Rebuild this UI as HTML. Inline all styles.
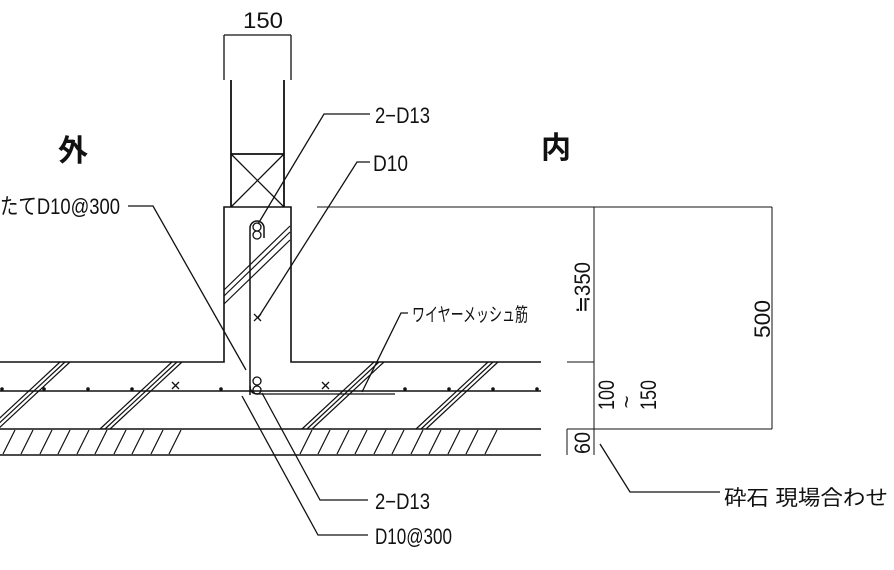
<!DOCTYPE html>
<html><head><meta charset="utf-8"><style>
html,body{margin:0;padding:0;background:#fff;width:894px;height:570px;overflow:hidden}
text{font-family:"Liberation Sans","Noto Sans CJK JP",sans-serif;fill:#111}
</style></head><body>
<svg width="894" height="570" viewBox="0 0 894 570" xmlns="http://www.w3.org/2000/svg">
<g stroke="#111" fill="none" stroke-width="1.3">
<line x1="224" y1="35" x2="291" y2="35"/>
<line x1="224" y1="35" x2="224" y2="80"/>
<line x1="291" y1="35" x2="291" y2="80"/>
<line x1="231" y1="80" x2="231" y2="207" stroke-width="1.8"/>
<line x1="284" y1="80" x2="284" y2="207" stroke-width="1.8"/>
<line x1="231" y1="154" x2="284" y2="154" stroke-width="1.8"/>
<line x1="231" y1="154" x2="284" y2="207"/>
<line x1="284" y1="154" x2="231" y2="207"/>
<path d="M0 362 H224 V207 H291 V362 H541" stroke-width="1.6"/>
<line x1="317" y1="207" x2="772" y2="207" stroke-width="1"/>
<line x1="0" y1="391" x2="541" y2="391" stroke-width="1.6"/>
<line x1="257" y1="394" x2="395" y2="394"/>
<line x1="0" y1="429" x2="541" y2="429" stroke-width="1.6"/>
<line x1="0" y1="455" x2="541" y2="455" stroke-width="1.6"/>
<g stroke-width="1.2">
<path d="M60 362 L-12 429 M65 362 L-7 429 M70 362 L-2 429"/>
<path d="M172 362 L100 429 M177 362 L105 429 M182 362 L110 429"/>
<path d="M374 362 L302 429 M379 362 L307 429 M384 362 L312 429"/>
<path d="M488 362 L416 429 M493 362 L421 429 M498 362 L426 429"/>
<path d="M290 226 L224 290 M290 232 L224 296 M290 240 L224 304"/>
</g>
<g stroke-width="1.2">
<path d="M15 430 L3 454 M33 430 L21 454 M52 430 L40 454 M70 430 L58 454 M89 430 L77 454 M107 430 L95 454 M126 430 L114 454 M144 430 L132 454 M163 430 L151 454 M181 430 L169 454"/>
<path d="M312 430 L300 454 M330 430 L318 454 M349 430 L337 454 M367 430 L355 454 M386 430 L374 454 M404 430 L392 454 M423 430 L411 454 M441 430 L429 454 M460 430 L448 454 M478 430 L466 454 M497 430 L485 454"/>
</g>
<path d="M250 395 V228 A7 7 0 0 1 264 228 V238" stroke-width="1.5"/>
<path d="M250 386 Q250 394 258 394" stroke-width="1.5"/>
<circle cx="257" cy="227" r="4"/><circle cx="257" cy="235" r="4"/>
<circle cx="257" cy="381" r="4"/><circle cx="257" cy="390" r="4"/>
<path d="M254 314 L261 321 M261 314 L254 321"/>
<path d="M172 382 L179 389 M179 382 L172 389"/>
<path d="M322 382 L329 389 M329 382 L322 389"/>
<path d="M258 224 L324 114 L370 114"/>
<path d="M258 318 L357 162 L370 162"/>
<path d="M128 206 L153 206 L246 370"/>
<path d="M362 392 L401 313 L408 313"/>
<path d="M262 393 L320 500 L368 500"/>
<path d="M242 396 L318 535 L368 535"/>
<line x1="594" y1="207" x2="594" y2="455" stroke-width="1"/>
<line x1="772" y1="207" x2="772" y2="429" stroke-width="1"/>
<line x1="567" y1="362" x2="594" y2="362" stroke-width="1"/>
<line x1="567" y1="429" x2="772" y2="429" stroke-width="1"/>
<line x1="567" y1="429" x2="567" y2="455" stroke-width="1"/>
<path d="M600 444 L630 492 L720 492"/>
</g>
<g fill="#111">
<circle cx="44" cy="389" r="1.8"/><circle cx="88" cy="389" r="1.8"/><circle cx="132" cy="389" r="1.8"/><circle cx="221" cy="389" r="1.8"/><circle cx="405" cy="389" r="1.8"/><circle cx="449" cy="389" r="1.8"/><circle cx="493" cy="389" r="1.8"/><circle cx="537" cy="389" r="1.8"/><circle cx="2" cy="389" r="1.8"/>
</g>
<text x="243" y="28" font-size="22" textLength="40" lengthAdjust="spacingAndGlyphs">150</text>
<text x="375" y="123" font-size="22" textLength="55" lengthAdjust="spacingAndGlyphs">2−D13</text>
<text x="373" y="171" font-size="22" textLength="35" lengthAdjust="spacingAndGlyphs">D10</text>
<text x="0" y="214" font-size="22" textLength="120" lengthAdjust="spacingAndGlyphs">たてD10@300</text>
<text x="412" y="321" font-size="19" textLength="116" lengthAdjust="spacingAndGlyphs">ワイヤーメッシュ筋</text>
<text x="375" y="509" font-size="22" textLength="55" lengthAdjust="spacingAndGlyphs">2−D13</text>
<text x="375" y="544" font-size="22" textLength="77" lengthAdjust="spacingAndGlyphs">D10@300</text>
<text x="73" y="161" font-size="30" font-weight="bold" text-anchor="middle">外</text>
<text x="556" y="158" font-size="30" font-weight="bold" text-anchor="middle">内</text>
<text x="724" y="505" font-size="21" textLength="164" lengthAdjust="spacingAndGlyphs">砕石 現場合わせ</text>
<text font-size="22" transform="translate(590,313) rotate(-90)" textLength="51" lengthAdjust="spacingAndGlyphs">≒350</text>
<text font-size="22" transform="translate(770,338) rotate(-90)" textLength="38" lengthAdjust="spacingAndGlyphs">500</text>
<text font-size="22" transform="translate(614,410) rotate(-90)" textLength="30" lengthAdjust="spacingAndGlyphs">100</text>
<text font-size="22" transform="translate(634,402) rotate(-90)" text-anchor="middle">~</text>
<text font-size="22" transform="translate(656,410) rotate(-90)" textLength="30" lengthAdjust="spacingAndGlyphs">150</text>
<text font-size="22" transform="translate(590,454) rotate(-90)" textLength="22" lengthAdjust="spacingAndGlyphs">60</text>
</svg>
</body></html>
